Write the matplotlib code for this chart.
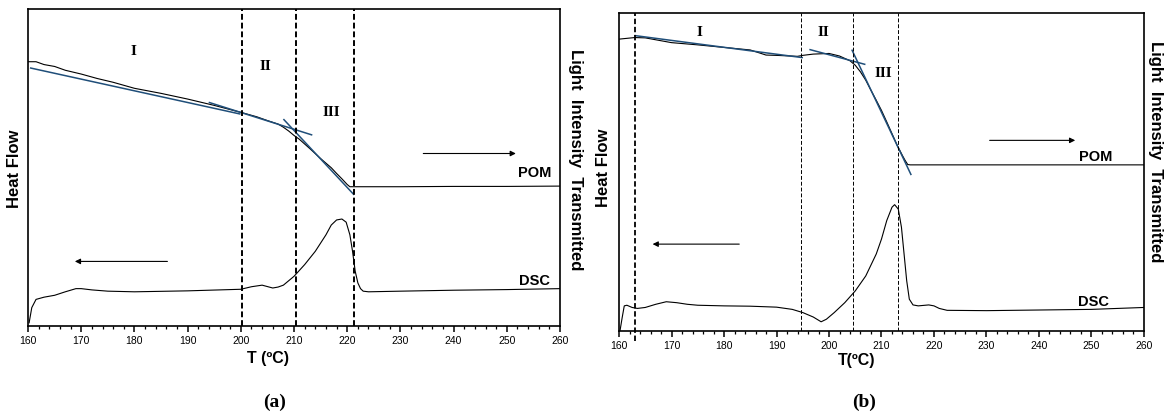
import numpy as np
import matplotlib
matplotlib.use("Agg")
import matplotlib.pyplot as plt
from matplotlib.ticker import MultipleLocator

## Panel (a) data (y normalised 0..1 inside the axes)
pom_a_t = [160, 161.5, 163, 165, 167, 170, 173, 176, 180, 185, 190, 195, 200, 203, 205,
           207, 208, 209, 210, 211, 213, 215, 217, 218, 219, 220, 220.5, 230, 240, 250, 260]
pom_a_y = [0.835, 0.835, 0.826, 0.820, 0.808, 0.796, 0.782, 0.770, 0.751, 0.735, 0.717,
           0.697, 0.675, 0.661, 0.649, 0.638, 0.628, 0.616, 0.602, 0.590, 0.560, 0.529,
           0.500, 0.482, 0.465, 0.447, 0.440, 0.440, 0.441, 0.441, 0.442]
dsc_a_t = [160.2, 160.7, 161.5, 163, 165, 167, 169, 170, 172, 175, 180, 190, 200, 202, 204,
           206, 207, 208, 210, 212, 214, 216, 217, 218, 219, 219.8, 220.5, 221, 221.5, 222,
           222.5, 223, 224, 230, 240, 250, 260]
dsc_a_y = [0.010, 0.058, 0.084, 0.091, 0.097, 0.108, 0.118, 0.118, 0.114, 0.110, 0.108,
           0.111, 0.116, 0.124, 0.129, 0.120, 0.123, 0.129, 0.157, 0.194, 0.236, 0.288,
           0.319, 0.335, 0.338, 0.328, 0.288, 0.236, 0.173, 0.136, 0.118, 0.110, 0.108,
           0.110, 0.113, 0.115, 0.118]
tang_a = [([160.5, 199.8], [0.815, 0.670]),
          ([194.1, 213.3], [0.706, 0.604]),
          ([208.1, 221.2], [0.652, 0.416])]
vlines_a = [200.2, 210.4, 221.2]
regions_a = [("I", 179.8, 0.867), ("II", 204.6, 0.819), ("III", 217.0, 0.675)]
labels_a = [("POM", 255.2, 0.482), ("DSC", 255.2, 0.143)]
arrows_a = [((234.3, 0.545), (251.7, 0.545)), ((186.2, 0.204), (168.8, 0.204))]

## Panel (b) data
pom_b_t = [160, 163, 165, 170, 175, 180, 185, 188, 190, 194, 195, 197, 200, 202, 204, 205,
           206, 207, 208, 209, 210, 211, 212, 213, 214, 214.5, 215, 215.5, 230, 245, 260]
pom_b_y = [0.917, 0.922, 0.921, 0.906, 0.899, 0.891, 0.883, 0.867, 0.866, 0.863, 0.866,
           0.870, 0.872, 0.864, 0.849, 0.835, 0.814, 0.788, 0.756, 0.725, 0.693, 0.657,
           0.620, 0.583, 0.551, 0.536, 0.523, 0.522, 0.522, 0.522, 0.522]
dsc_b_t = [160.2, 160.6, 161, 161.5, 162.5, 163.5, 165, 167, 169, 171, 173, 175, 180, 185,
           190, 193, 195, 197, 198.5, 199.5, 201, 203, 205, 207, 209, 210, 211, 212, 212.5,
           213.2, 213.8, 214.3, 214.8, 215.3, 216, 217, 219, 220, 221, 222.5, 230, 240, 250, 260]
dsc_b_y = [0.002, 0.042, 0.079, 0.081, 0.074, 0.071, 0.074, 0.084, 0.092, 0.089, 0.084,
           0.081, 0.079, 0.078, 0.075, 0.068, 0.058, 0.044, 0.029, 0.037, 0.058, 0.089,
           0.126, 0.173, 0.242, 0.289, 0.347, 0.389, 0.397, 0.383, 0.326, 0.242, 0.158,
           0.100, 0.082, 0.079, 0.082, 0.079, 0.071, 0.065, 0.064, 0.066, 0.068, 0.074]
tang_b = [([163.1, 194.9], [0.928, 0.859]),
          ([196.4, 206.8], [0.884, 0.838]),
          ([204.4, 215.6], [0.882, 0.492])]
vline_b_thick = 163.1
vlines_b = [194.6, 204.5, 213.1]
regions_b = [("I", 175.3, 0.938), ("II", 198.9, 0.938), ("III", 210.4, 0.809)]
labels_b = [("POM", 250.8, 0.546), ("DSC", 250.4, 0.092)]
arrows_b = [((230.6, 0.599), (246.9, 0.599)), ((182.9, 0.273), (166.4, 0.273))]

blue = "#1f4e79"
sans = "Liberation Sans"
serif = "Liberation Serif"

fig = plt.figure(figsize=(11.64, 4.13), dpi=100)
ax_a = fig.add_axes([0.0241, 0.2107, 0.4570, 0.7663])
ax_b = fig.add_axes([0.5318, 0.1985, 0.4510, 0.7707])


def setup(ax):
    ax.set_xlim(160, 260)
    ax.set_ylim(0, 1)
    ax.set_yticks([])
    ax.xaxis.set_major_locator(MultipleLocator(10))
    ax.xaxis.set_minor_locator(MultipleLocator(2))
    ax.tick_params(axis="x", which="major", direction="out", length=4, width=1.1,
                   labelsize=7.5, pad=3)
    ax.tick_params(axis="x", which="minor", direction="out", length=2.5, width=0.9)
    for lab in ax.get_xticklabels():
        lab.set_fontfamily(sans)
    for s in ax.spines.values():
        s.set_linewidth(1.2)


def draw(ax, pom_t, pom_y, dsc_t, dsc_y, tangs, regions, labels, arrows):
    ax.plot(pom_t, pom_y, color="black", lw=0.8)
    ax.plot(dsc_t, dsc_y, color="black", lw=0.8)
    for xs, ys in tangs:
        ax.plot(xs, ys, color=blue, lw=1.1)
    for txt, x, y in regions:
        ax.text(x, y, txt, family=serif, weight="bold", fontsize=11, ha="center", va="center")
    for txt, x, y in labels:
        ax.text(x, y, txt, family=sans, weight="bold", fontsize=10.5, ha="center", va="center")
    for start, end in arrows:
        ax.annotate("", xy=end, xytext=start,
                    arrowprops=dict(arrowstyle="-|>", color="black", lw=0.8,
                                    mutation_scale=8, shrinkA=0, shrinkB=0))


# panel (a)
setup(ax_a)
draw(ax_a, pom_a_t, pom_a_y, dsc_a_t, dsc_a_y, tang_a, regions_a, labels_a, arrows_a)
for v in vlines_a:
    ax_a.axvline(v, color="black", lw=1.4, ls=(0, (3, 1.5)))

# panel (b)
setup(ax_b)
draw(ax_b, pom_b_t, pom_b_y, dsc_b_t, dsc_b_y, tang_b, regions_b, labels_b, arrows_b)
ax_b.axvline(vline_b_thick, ymin=-0.03, ymax=1, color="black", lw=1.3,
             ls=(0, (3, 1.5)), clip_on=False)
for v in vlines_b:
    ax_b.axvline(v, color="black", lw=0.7, ls=(0, (4, 2)))

# axis titles
fig.text(15 / 1164, 1 - 169 / 413, "Heat Flow", rotation=90, family=sans, weight="bold",
         fontsize=12, ha="center", va="center")
fig.text(575 / 1164, 1 - 160 / 413, "Light  Intensity  Transmitted", rotation=-90,
         family=sans, weight="bold", fontsize=12, ha="center", va="center")
fig.text(604 / 1164, 1 - 168 / 413, "Heat Flow", rotation=90, family=sans, weight="bold",
         fontsize=12, ha="center", va="center")
fig.text(1156 / 1164, 1 - 152 / 413, "Light  Intensity  Transmitted", rotation=-90,
         family=sans, weight="bold", fontsize=12, ha="center", va="center")
fig.text(268 / 1164, 1 - 358 / 413, "T (ºC)", family=sans, weight="bold", fontsize=11.5,
         ha="center", va="center")
fig.text(857 / 1164, 1 - 360 / 413, "T(ºC)", family=sans, weight="bold", fontsize=11.5,
         ha="center", va="center")
fig.text(275 / 1164, 1 - 402 / 413, "(a)", family=serif, weight="bold", fontsize=14,
         ha="center", va="center")
fig.text(864 / 1164, 1 - 402 / 413, "(b)", family=serif, weight="bold", fontsize=14,
         ha="center", va="center")

fig.savefig("out.png", dpi=100)
